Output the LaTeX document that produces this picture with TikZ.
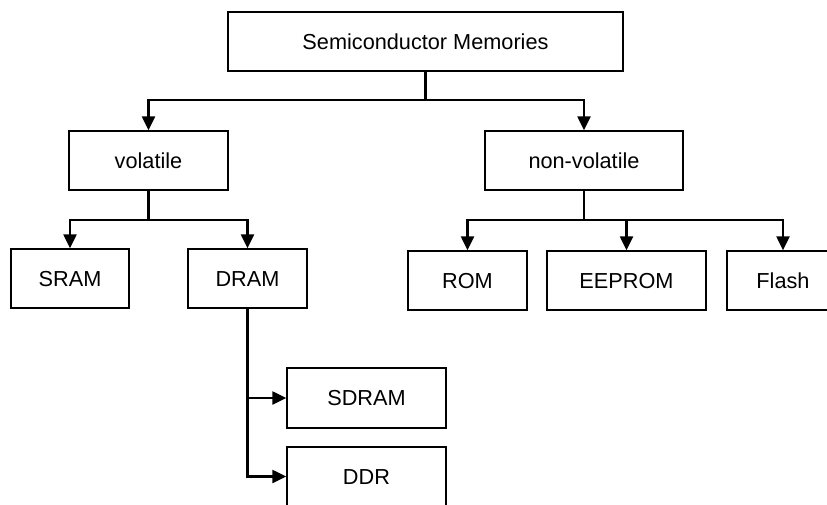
\documentclass[tikz,border=0pt]{standalone}
\usepackage{fontspec}
\setmainfont{Liberation Sans}
\usetikzlibrary{arrows.meta}

\begin{document}
\begin{tikzpicture}[x=1pt,y=-1pt,
  box/.style={draw, line width=1.3pt, rectangle, minimum height=59pt,
    inner sep=0pt, text height=15.5pt, text depth=0pt,
    font=\fontsize{21.7}{26}\selectfont, text=black},
  conn/.style={draw, line width=2.2pt, -{Triangle[length=14pt,width=13pt]}},
  trunk/.style={draw, line width=2.2pt}]

  \clip (0,0) rectangle (827,504);
  \fill[white] (0,0) rectangle (827,504);

  % Boxes
  \node[box, minimum width=395pt] (top)    at (425.5,41.5)  {Semiconductor Memories};
  \node[box, minimum width=159pt] (vol)    at (148.5,160.5) {volatile};
  \node[box, minimum width=198pt] (nonvol) at (584,160.5)   {non-volatile};
  \node[box, minimum width=118pt] (sram)   at (70,278.5)    {SRAM};
  \node[box, minimum width=119pt] (dram)   at (247.5,278.5) {DRAM};
  \node[box, minimum width=119pt] (rom)    at (467.5,280.5) {ROM};
  \node[box, minimum width=159pt] (eeprom) at (626.5,280.5) {EEPROM};
  \node[box, minimum width=112pt] (flash)  at (783,280.5)   {Flash};
  \node[box, minimum width=159pt, minimum height=60pt] (sdram) at (366.5,398) {SDRAM};
  \node[box, minimum width=159pt] (ddr)    at (366.5,476.5) {DDR};

  % Branch points
  \coordinate (j0) at (425.5,100);
  \coordinate (j1) at (148.5,220);
  \coordinate (j2) at (584,220);

  % Connectors
  \draw[trunk] (top.south) -- (j0);
  \draw[conn] (j0) -| (vol.north);
  \draw[conn] (j0) -| (nonvol.north);

  \draw[trunk] (vol.south) -- (j1);
  \draw[conn] (j1) -| (sram.north);
  \draw[conn] (j1) -| (dram.north);

  \draw[trunk] (nonvol.south) -- (j2);
  \draw[conn] (j2) -| (rom.north);
  \draw[conn] (j2) -| (eeprom.north);
  \draw[conn] (j2) -| (flash.north);

  \draw[conn] (dram.south) |- (sdram.west);
  \draw[conn] (dram.south) |- (ddr.west);
\end{tikzpicture}
\end{document}
